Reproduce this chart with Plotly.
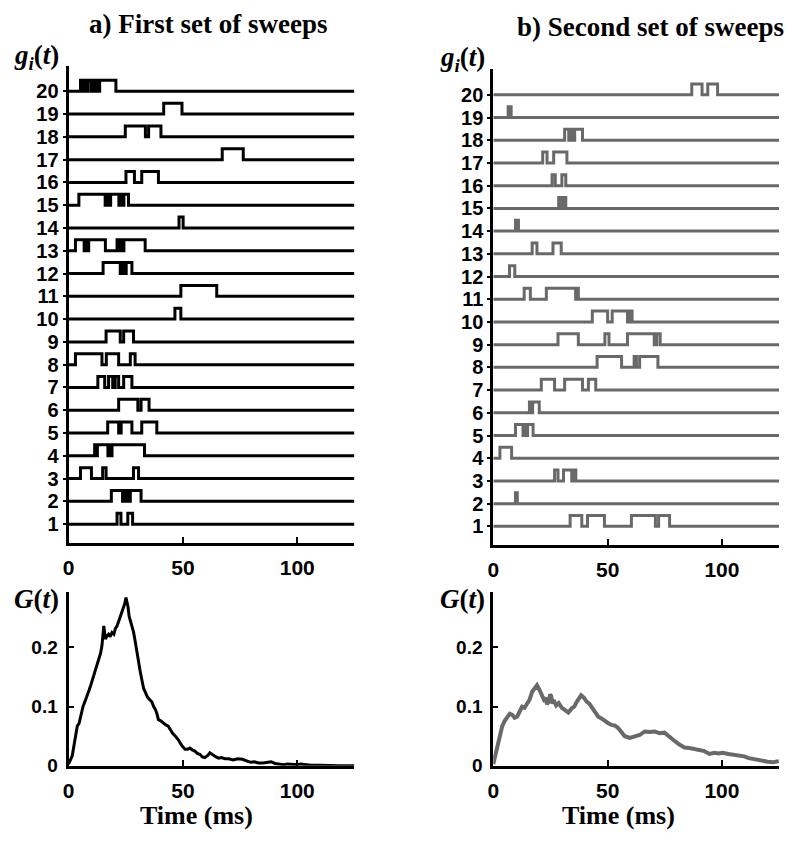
import plotly.graph_objects as go

# ---------------- data ----------------
T_END = 125
rows = list(range(1, 21))
row_labels = [str(r) for r in rows]
x_ticks = [0, 50, 100]
g_ticks = [0, 0.1, 0.2]
g_tick_labels = ["0", "0.1", "0.2"]

# "on" intervals (ms) for each sweep, rows 1..20 -- first set
sweeps_a = [
    [[21.2, 22.9], [25.9, 28.0]],                                             # 1
    [[18.7, 23.6], [24.2, 24.6], [25.3, 25.7], [27.0, 31.7]],                 # 2
    [[5.2, 10.0], [14.9, 16.4], [28.4, 30.6]],                                # 3
    [[11.4, 11.9], [12.6, 17.2], [17.8, 18.2], [19.0, 33.2]],                 # 4
    [[17.1, 21.9], [23.0, 27.7], [32.0, 38.6]],                               # 5
    [[21.9, 30.3], [31.7, 35.2]],                                             # 6
    [[12.8, 15.8], [17.5, 19.3], [20.4, 21.9], [24.1, 27.7]],                 # 7
    [[3.0, 14.6], [16.5, 21.9], [27.0, 29.1]],                                # 8
    [[16.4, 22.6], [24.1, 28.4]],                                             # 9
    [[46.5, 49.1]],                                                           # 10
    [[49.1, 64.8]],                                                           # 11
    [[15.1, 22.6], [23.8, 24.6], [25.2, 27.7]],                               # 12
    [[3.0, 6.8], [7.6, 8.0], [8.8, 16.1], [21.2, 22.0], [22.6, 23.4], [24.2, 33.5]],  # 13
    [[48.3, 50.1]],                                                           # 14
    [[4.5, 16.0], [17.0, 17.8], [18.4, 22.0], [22.8, 23.4], [24.2, 26.2]],    # 15
    [[25.1, 28.8], [32.0, 39.3]],                                             # 16
    [[67.2, 76.4]],                                                           # 17
    [[24.8, 33.6], [35.0, 40.4]],                                             # 18
    [[41.6, 49.6]],                                                           # 19
    [[5.2, 6.3], [7.0, 7.6], [8.4, 9.8], [10.4, 11.0], [11.8, 13.0], [13.6, 20.7]],  # 20
]

# second set
sweeps_b = [
    [[33.6, 38.7], [41.2, 48.6], [60.4, 70.9], [72.3, 77.1]],                 # 1
    [[9.7, 10.5]],                                                            # 2
    [[26.8, 28.3], [30.7, 34.3], [35.0, 36.1]],                               # 3
    [[2.9, 8.0]],                                                             # 4
    [[9.7, 13.0], [13.7, 14.2], [15.0, 17.4]],                                # 5
    [[15.8, 16.6], [17.2, 20.1]],                                             # 6
    [[21.0, 26.8], [31.2, 39.0], [41.6, 44.8]],                               # 7
    [[45.4, 56.1], [61.6, 62.6], [64.0, 72.0]],                               # 8
    [[28.3, 37.2], [48.8, 50.6], [58.7, 70.4], [71.5, 73.0]],                 # 9
    [[43.3, 50.0], [52.0, 58.7], [59.7, 60.7]],                               # 10
    [[13.5, 16.2], [23.2, 36.0], [36.6, 37.2]],                               # 11
    [[7.1, 9.4]],                                                             # 12
    [[17.0, 19.1], [26.1, 29.7]],                                             # 13
    [[9.7, 11.0]],                                                            # 14
    [[28.6, 29.6], [30.6, 31.7]],                                             # 15
    [[25.7, 27.1], [30.0, 31.7]],                                             # 16
    [[21.6, 23.5], [26.4, 32.2]],                                             # 17
    [[31.2, 33.0], [34.0, 34.6], [35.6, 39.0]],                               # 18
    [[6.5, 7.8]],                                                             # 19
    [[86.8, 91.3], [93.8, 98.1]],                                             # 20
]
PULSE_H = 0.48

# G(t) curves
t_a = [0, 0.8, 1.6, 2.6, 3.8, 4.6, 5.5, 6.3, 7.4, 8.2, 9.0, 9.7, 10.3, 11.2, 12.0, 12.6,
       13.2, 14.0, 14.6, 15.0, 15.4, 15.8, 16.1, 16.8, 17.5, 18.2, 19.0, 19.8, 20.5, 21.2,
       21.9, 22.5, 23.0, 23.6, 24.1, 24.6, 25.1, 25.6, 26.0, 26.5, 27.0, 27.5, 28.0, 28.4,
       29.0, 29.5, 30.0, 30.6, 31.2, 31.8, 32.3, 32.8, 33.6, 34.5, 35.4, 36.4, 37.2, 38.0,
       38.7, 39.3, 40.3, 41.5, 42.5, 43.6, 44.5, 45.5, 46.7, 48.0, 49.4, 50.9, 52.0, 53.0,
       54.1, 55.2, 56.3, 57.5, 58.5, 59.6, 60.3, 61.0, 61.8, 62.5, 63.5, 64.5, 65.6, 66.8,
       68.4, 70.0, 72.0, 74.0, 76.0, 78.0, 79.6, 81.3, 83.0, 85.0, 86.8, 88.6, 90.3, 92.0,
       94.0, 95.8, 98.0, 100.0, 101.5, 103.0, 106.0, 110.0, 114.0, 118.0, 125.0]
G_a = [0.003, 0.009, 0.017, 0.04, 0.067, 0.072, 0.085, 0.1, 0.111, 0.118, 0.128, 0.136,
       0.144, 0.152, 0.165, 0.172, 0.183, 0.19, 0.203, 0.215, 0.236, 0.224, 0.214, 0.219,
       0.222, 0.218, 0.225, 0.222, 0.232, 0.236, 0.244, 0.25, 0.255, 0.262, 0.267, 0.274,
       0.284, 0.276, 0.268, 0.252, 0.246, 0.238, 0.232, 0.226, 0.213, 0.2, 0.188, 0.176,
       0.162, 0.15, 0.138, 0.131, 0.124, 0.116, 0.112, 0.108, 0.1, 0.095, 0.087, 0.078,
       0.076, 0.072, 0.069, 0.067, 0.06, 0.055, 0.05, 0.044, 0.035, 0.028, 0.028, 0.03,
       0.027, 0.025, 0.021, 0.019, 0.015, 0.014, 0.016, 0.018, 0.022, 0.02, 0.017, 0.015,
       0.013, 0.014, 0.012, 0.012, 0.01, 0.012, 0.011, 0.008, 0.006, 0.007, 0.005, 0.005,
       0.006, 0.007, 0.004, 0.003, 0.002, 0.003, 0.002, 0.002, 0.003, 0.002, 0.001, 0.001,
       0.0, 0.0, 0.0]

t_b = [0, 0.9, 1.7, 2.8, 3.9, 5.0, 6.1, 7.2, 8.3, 9.3, 10.4, 11.5, 12.6, 13.7, 14.8,
       15.9, 17.0, 18.1, 19.1, 20.2, 21.3, 22.1, 22.8, 23.5, 24.2, 24.8, 25.3, 25.9, 26.4,
       27.5, 28.6, 30.0, 31.4, 32.8, 34.3, 35.4, 36.5, 37.5, 38.4, 39.6, 40.9, 42.0, 43.0,
       44.5, 45.9, 47.3, 48.8, 50.3, 51.7, 53.2, 54.6, 56.0, 57.5, 59.7, 61.9, 64.0, 66.2,
       68.4, 70.6, 72.7, 74.9, 77.1, 79.3, 81.4, 83.6, 85.8, 88.0, 90.2, 92.3, 94.5, 96.7,
       98.5, 100.3, 102.8, 105.4, 107.5, 109.7, 111.8, 114.0, 117.0, 119.9, 122.4, 124.9]
G_b = [0.003, 0.018, 0.033, 0.05, 0.067, 0.076, 0.083, 0.088, 0.086, 0.081, 0.083, 0.092,
       0.1, 0.098, 0.106, 0.112, 0.125, 0.13, 0.136, 0.128, 0.119, 0.112, 0.115, 0.104,
       0.108, 0.12, 0.118, 0.105, 0.111, 0.102, 0.106, 0.098, 0.094, 0.09, 0.097, 0.1,
       0.108, 0.114, 0.119, 0.115, 0.108, 0.105, 0.1, 0.09, 0.083, 0.08, 0.075, 0.072,
       0.069, 0.068, 0.064, 0.058, 0.05, 0.047, 0.05, 0.052, 0.058, 0.057, 0.058, 0.055,
       0.056, 0.05, 0.042, 0.036, 0.031, 0.03, 0.028, 0.026, 0.025, 0.02, 0.022, 0.021,
       0.022, 0.02, 0.019, 0.017, 0.016, 0.013, 0.011, 0.01, 0.007, 0.006, 0.008]

BLACK = "#000000"
GRAY = "#696969"


def step_xy(intervals_by_row):
    xs, ys = [], []
    for r, iv in zip(rows, intervals_by_row):
        xs.append(0)
        ys.append(r)
        for s, e in iv:
            xs += [s, s, e, e]
            ys += [r, r + PULSE_H, r + PULSE_H, r]
        xs.append(T_END)
        ys.append(r)
        xs.append(None)
        ys.append(None)
    return xs, ys


fig = go.Figure()
xa, ya = step_xy(sweeps_a)
xb, yb = step_xy(sweeps_b)
fig.add_trace(go.Scatter(x=xa, y=ya, mode="lines", line=dict(color=BLACK, width=3),
                         xaxis="x", yaxis="y", showlegend=False))
fig.add_trace(go.Scatter(x=xb, y=yb, mode="lines", line=dict(color=GRAY, width=3),
                         xaxis="x2", yaxis="y2", showlegend=False))
fig.add_trace(go.Scatter(x=t_a, y=G_a, mode="lines", line=dict(color=BLACK, width=3),
                         xaxis="x3", yaxis="y3", showlegend=False))
fig.add_trace(go.Scatter(x=t_b, y=G_b, mode="lines", line=dict(color=GRAY, width=4),
                         xaxis="x4", yaxis="y4", showlegend=False))

# the page body has an 8px margin on every side: size the figure so the page
# is exactly 800x848 and convert reference pixel positions accordingly
OFF = 8
W, H = 800 - 2 * OFF, 848 - 2 * OFF
SANS = "Liberation Sans"
SERIF = "Liberation Serif"


def fx(px):
    return (px - OFF) / W


def fy(py):
    return 1 - (py - OFF) / H


def xax(domain, anchor, standoff):
    return dict(domain=domain, anchor=anchor, range=[0, T_END], showgrid=False,
                zeroline=False, showline=True, linecolor="black", linewidth=3,
                ticks="inside", ticklen=6, tickwidth=2, tickcolor="black",
                tickvals=x_ticks, ticktext=[str(v) for v in x_ticks],
                ticklabelstandoff=standoff,
                tickfont=dict(family=SANS, size=21, color="black", weight="bold"))


def yrow(domain, anchor, rng):
    return dict(domain=domain, anchor=anchor, range=rng, showgrid=False, zeroline=False,
                showline=True, linecolor="black", linewidth=3,
                ticks="outside", ticklen=3, tickwidth=1.5, tickcolor="black",
                tickvals=rows, ticktext=row_labels,
                tickfont=dict(family=SANS, size=20, color="black", weight="bold"))


def yg(domain, anchor):
    return dict(domain=domain, anchor=anchor, range=[0, 0.293], showgrid=False,
                zeroline=False, showline=True, linecolor="black", linewidth=3,
                ticks="inside", ticklen=5, tickwidth=2, tickcolor="black",
                tickvals=g_ticks, ticktext=g_tick_labels, ticklabelstandoff=4,
                tickfont=dict(family=SANS, size=19, color="black", weight="bold"))


dom_left = [fx(63), fx(351)]
dom_right = [fx(491), fx(779)]

fig.update_layout(
    width=W, height=H, margin=dict(l=0, r=0, t=0, b=0),
    paper_bgcolor="white", plot_bgcolor="white",
    xaxis=xax(dom_left, "y", 4),
    yaxis=yrow([fy(550), fy(67)], "x", [0.18, 21.1]),
    xaxis2=xax(dom_right, "y2", 4),
    yaxis2=yrow([fy(551.7), fy(70)], "x2", [0.2, 21.13]),
    xaxis3=xax(dom_left, "y3", 4),
    yaxis3=yg([fy(776), fy(600)], "x3"),
    xaxis4=xax(dom_right, "y4", 4),
    yaxis4=yg([fy(776), fy(600)], "x4"),
)


def ann(text, x, y, size, family=SERIF):
    fig.add_annotation(text=text, x=fx(x), y=fy(y), xref="paper", yref="paper",
                       showarrow=False, xanchor="center", yanchor="middle",
                       font=dict(family=family, size=size, color="black"))


ann("<b>a) First set of sweeps</b>", 203, 24, 27)
ann("<b>b) Second set of sweeps</b>", 649, 27, 27)
ann("<b><i>g</i><sub><i>i</i></sub>(<i>t</i>)</b>", 31, 58, 27)
ann("<b><i>g</i><sub><i>i</i></sub>(<i>t</i>)</b>", 460, 60, 27)
ann("<b><i>G</i>(<i>t</i>)</b>", 31, 607, 27)
ann("<b><i>G</i>(<i>t</i>)</b>", 460, 607, 27)
ann("<b>Time (ms)</b>", 192, 826, 26)
ann("<b>Time (ms)</b>", 617, 826, 26)

fig.write_html("out.html", config={"displayModeBar": False})
